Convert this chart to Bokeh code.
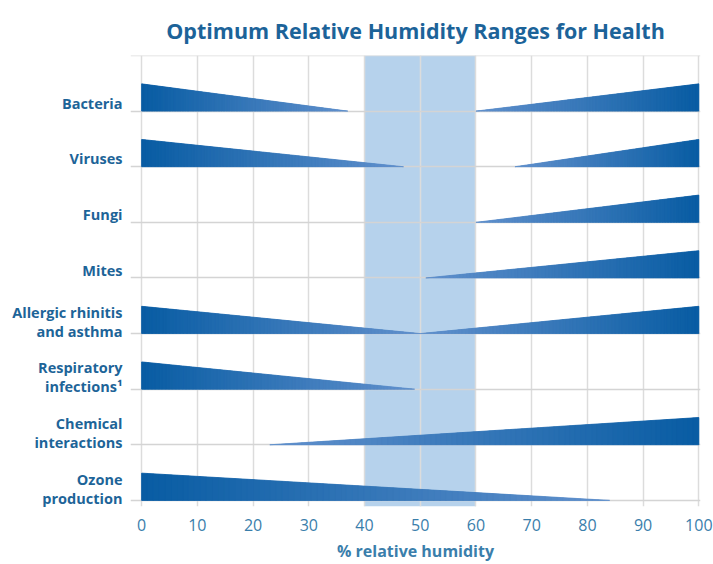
from bokeh.plotting import figure
from bokeh.models import FixedTicker, Range1d, BoxAnnotation, Span, ColumnDataSource
from bokeh.embed import file_html
from bokeh.resources import INLINE

# ---- data ----
title_text = "Optimum Relative Humidity Ranges for Health"
categories = ["Bacteria", "Viruses", "Fungi", "Mites",
              "Allergic rhinitis\nand asthma", "Respiratory\ninfections\u00b9",
              "Chemical\ninteractions", "Ozone\nproduction"]
# left wedge: thick at 0 % RH, tapering to this value (None = no wedge)
left_end = [37, 47, None, None, 50, 49, None, 84]
# right wedge: starts thin at this value, thick at 100 % RH
right_start = [60, 67, 60, 51, 50, None, 23, None]
optimum_low, optimum_high = 40, 60
x_ticks = [0, 10, 20, 30, 40, 50, 60, 70, 80, 90, 100]

# ---- style ----
WEDGE_H = 0.49
N_STRIPS = 80
DARK = (8, 92, 163)
LIGHT = (98, 145, 205)
LABEL_COLOR = "#1d6498"
TICK_COLOR = "#3a7eab"
FONT = "Open Sans"

n = len(categories)
rows = [n - 1 - i for i in range(n)]  # Bacteria on top


def mix(t):
    r = [round(LIGHT[k] + (DARK[k] - LIGHT[k]) * t) for k in range(3)]
    return "#%02x%02x%02x" % tuple(r)


bxs, bys = [], []
xs, ys, cols = [], [], []


def add_wedge(x_thin, x_thick, y0):
    bxs.append([x_thin, x_thick, x_thick])
    bys.append([y0, y0, y0 + WEDGE_H])
    for s in range(N_STRIPS):
        a = x_thin + (x_thick - x_thin) * s / N_STRIPS
        b = x_thin + (x_thick - x_thin) * (s + 1) / N_STRIPS
        ha = WEDGE_H * s / N_STRIPS
        hb = WEDGE_H * (s + 1) / N_STRIPS
        xs.append([a, b, b, a])
        ys.append([y0, y0, y0 + hb, y0 + ha])
        cols.append(mix((s + 0.5) / N_STRIPS))


for i in range(n):
    if left_end[i] is not None:
        add_wedge(left_end[i], x_ticks[0], rows[i])
    if right_start[i] is not None:
        add_wedge(right_start[i], x_ticks[-1], rows[i])

p = figure(width=713, height=564, output_backend="svg", toolbar_location=None,
           x_range=Range1d(-2, 100.3), y_range=Range1d(-0.11, 8.0),
           min_border_left=130, min_border_right=13, min_border_top=55,
           min_border_bottom=58)
p.outline_line_color = None
p.background_fill_color = "white"

p.title.text = title_text
p.title.align = "center"
p.title.offset = 6
p.title.text_font = FONT
p.title.text_font_size = "21.5px"
p.title.text_font_style = "bold"
p.title.text_color = "#1c6399"
p.title.standoff = 22

band = BoxAnnotation(left=optimum_low, right=optimum_high, fill_color="#b6d2ec",
                     fill_alpha=1, line_color=None, level="image")
p.add_layout(band)

p.xgrid.ticker = FixedTicker(ticks=x_ticks)
p.xgrid.grid_line_color = "#dcdcdc"
p.xgrid.grid_line_width = 1.5
p.ygrid.ticker = FixedTicker(ticks=rows)
p.ygrid.grid_line_color = "#d4d4d4"
p.ygrid.grid_line_width = 1.5
p.add_layout(Span(location=8.0, dimension="width", line_color="#dcdcdc", line_width=1.5))

p.patches(bxs, bys, fill_color=mix(0.5), line_color=None)
src = ColumnDataSource(dict(xs=xs, ys=ys, c=cols))
p.patches("xs", "ys", source=src, fill_color="c", line_color="c", line_width=0.8)

# x axis
p.xaxis.ticker = FixedTicker(ticks=x_ticks)
p.xaxis.axis_line_color = None
p.xaxis.major_tick_line_color = None
p.xaxis.minor_tick_line_color = None
p.xaxis.major_label_text_font = FONT
p.xaxis.major_label_text_font_size = "16px"
p.xaxis.major_label_text_color = TICK_COLOR
p.xaxis.major_label_standoff = 6
p.xaxis.axis_label = "% relative humidity"
p.xaxis.axis_label_text_font = FONT
p.xaxis.axis_label_text_font_size = "16px"
p.xaxis.axis_label_text_font_style = "bold"
p.xaxis.axis_label_text_color = TICK_COLOR
p.xaxis.axis_label_standoff = 6

# y axis labels (placed slightly above each baseline)
label_pos = [rows[i] + (0.21 if "\n" in categories[i] else 0.14) for i in range(n)]
p.yaxis.ticker = FixedTicker(ticks=label_pos)
p.yaxis.major_label_overrides = {label_pos[i]: categories[i] for i in range(n)}
p.yaxis.axis_line_color = None
p.yaxis.major_tick_line_color = None
p.yaxis.minor_tick_line_color = None
p.yaxis.major_label_text_font = FONT
p.yaxis.major_label_text_font_size = "14.5px"
p.yaxis.major_label_text_font_style = "bold"
p.yaxis.major_label_text_color = LABEL_COLOR
p.yaxis.major_label_text_line_height = 1.0
p.yaxis.major_label_standoff = 2

open("out.html", "w").write(file_html(p, INLINE))
